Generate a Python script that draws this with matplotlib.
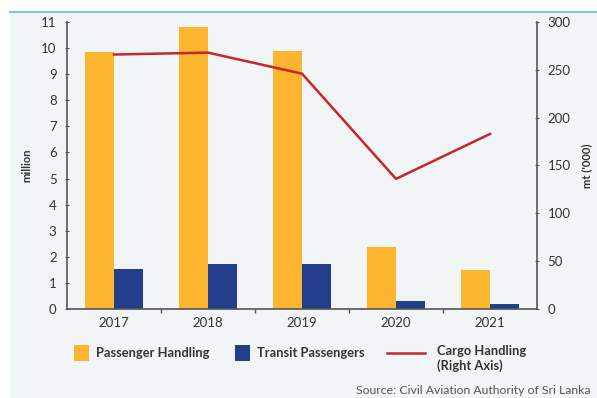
import matplotlib
matplotlib.use("Agg")
import matplotlib.pyplot as plt
import numpy as np
from matplotlib.patches import Rectangle
from matplotlib.lines import Line2D

years = ["2017", "2018", "2019", "2020", "2021"]
passenger = [9.85, 10.8, 9.9, 2.37, 1.49]
transit = [1.55, 1.73, 1.74, 0.32, 0.19]
cargo = [266, 268, 246, 136, 183]
left_ticks = list(range(0, 12))
right_ticks = [0, 50, 100, 150, 200, 250, 300]

YEL = "#FBB52E"
BLU = "#233F8C"
RED = "#C8262F"
BG = "#F1F5F5"
AX = "#555555"
TXT = "#333333"

plt.rcParams['font.family'] = ['Lato', 'DejaVu Sans']

fig = plt.figure(figsize=(5.97, 3.98), dpi=100)
fig.patch.set_facecolor("white")
fig.patches.append(Rectangle((10/597, 0), 1, (398-13)/398, transform=fig.transFigure,
                             facecolor=BG, edgecolor="none", zorder=-10))
fig.lines.append(Line2D([10/597, 1], [(398-12)/398]*2, transform=fig.transFigure,
                        color="#80C8CC", lw=1.5))

ax = fig.add_axes([67/597, (398-309)/398, (537-67)/597, (309-22)/398])
ax.set_facecolor("none")
x = np.arange(len(years))
w = 0.31
ax.bar(x - w/2, passenger, w, color=YEL, label="Passenger Handling", zorder=2)
ax.bar(x + w/2, transit, w, color=BLU, label="Transit Passengers", zorder=2)
ax.set_xlim(-0.5, len(years) - 0.5)
ax.set_ylim(0, 11)
ax.set_yticks(left_ticks)
ax.set_xticks(x)
ax.set_xticklabels(years)
ax.set_xticks(np.arange(0.5, len(years) - 1, 1), minor=True)
ax.tick_params(axis='x', which='major', length=0, pad=6, labelsize=9.5, colors=TXT)
ax.tick_params(axis='x', which='minor', length=3, direction='out', color=AX, width=1)
ax.tick_params(axis='y', length=3, direction='inout', color=AX, labelsize=9.5, labelcolor=TXT, pad=6)
ax.set_ylabel("million", fontsize=8, fontweight='bold', color=TXT, labelpad=6)
for s in ["top", "right"]:
    ax.spines[s].set_visible(False)
for s in ["left", "bottom"]:
    ax.spines[s].set_color(AX)
    ax.spines[s].set_linewidth(1.2)

ax2 = ax.twinx()
ax2.plot(x, cargo, color=RED, lw=1.8, zorder=3)
ax2.set_ylim(0, 300)
ax2.set_yticks(right_ticks)
ax2.tick_params(axis='y', length=3, direction='inout', color=AX, labelsize=9.5, labelcolor=TXT, pad=6)
ax2.set_ylabel("mt ('000)", fontsize=8, fontweight='bold', color=TXT, labelpad=8)
for s in ["top", "left", "bottom"]:
    ax2.spines[s].set_visible(False)
ax2.spines["right"].set_color(AX)
ax2.spines["right"].set_linewidth(1.2)

# legend
fig.patches.append(Rectangle((74/597, (398-361)/398), 15/597, 16/398, transform=fig.transFigure,
                             facecolor=YEL, edgecolor="none"))
fig.text(96/597, (398-353)/398, "Passenger Handling", fontsize=9.3, fontweight='bold',
         color=TXT, va='center', ha='left')
fig.patches.append(Rectangle((235/597, (398-361)/398), 15/597, 16/398, transform=fig.transFigure,
                             facecolor=BLU, edgecolor="none"))
fig.text(257/597, (398-353)/398, "Transit Passengers", fontsize=9.3, fontweight='bold',
         color=TXT, va='center', ha='left')
fig.lines.append(Line2D([387/597, 425/597], [(398-353)/398]*2, transform=fig.transFigure,
                        color=RED, lw=1.8))
fig.text(437/597, (398-345)/398, "Cargo Handling\n(Right Axis)", fontsize=9.3, fontweight='bold',
         color=TXT, va='top', ha='left', linespacing=1.2)
fig.text(591/597, (398-390)/398, "Source: Civil Aviation Authority of Sri Lanka", fontsize=8.8,
         color="#555555", va='center', ha='right')

fig.savefig("out.png", dpi=100, facecolor=fig.get_facecolor())
